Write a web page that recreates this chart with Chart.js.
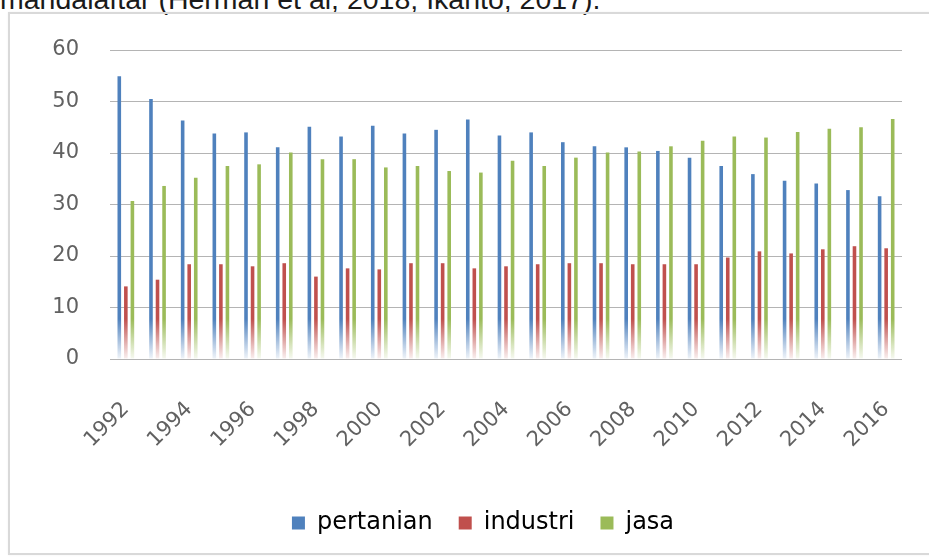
<!DOCTYPE html>
<html>
<head>
<meta charset="utf-8">
<script src="https://cdn.jsdelivr.net/npm/chart.js@4"></script>
<style>
  html, body { margin:0; padding:0; background:#fff; width:929px; height:559px; overflow:hidden; }
  .caption { position:absolute; left:0; top:-15px; font:28.5px "Liberation Sans", Arial, sans-serif; line-height:28px; color:#1a1a1a; white-space:nowrap; }
  .frame { position:absolute; left:8px; top:12px; width:940px; height:539px; border:2px solid #d9d9d9; box-shadow:0 0 2px rgba(0,0,0,.06); }
  #wrap { position:absolute; left:0; top:0; width:929px; height:559px; }
</style>
</head>
<body>
<div class="caption">mandalaftar (Herman et al, 2018; Ikanto, 2017).</div>
<div class="frame"></div>
<div id="wrap"><canvas id="c"></canvas></div>
<script>
/* ── data ── */
const YEARS = ['1992','1993','1994','1995','1996','1997','1998','1999','2000','2001','2002','2003',
               '2004','2005','2006','2007','2008','2009','2010','2011','2012','2013','2014','2015','2016'];
const PERTANIAN = [54.9, 50.5, 46.3, 43.8, 44.0, 41.1, 45.1, 43.2, 45.3, 43.8, 44.5, 46.5,
                   43.4, 44.0, 42.1, 41.3, 41.1, 40.4, 39.1, 37.5, 35.9, 34.6, 34.1, 32.8, 31.6];
const INDUSTRI  = [14.1, 15.4, 18.4, 18.4, 18.0, 18.6, 16.0, 17.6, 17.4, 18.6, 18.6, 17.6,
                   18.0, 18.4, 18.6, 18.6, 18.4, 18.4, 18.4, 19.7, 20.9, 20.5, 21.3, 21.9, 21.5];
const JASA      = [30.7, 33.6, 35.2, 37.5, 37.8, 40.1, 38.8, 38.8, 37.2, 37.5, 36.5, 36.2,
                   38.5, 37.5, 39.1, 40.1, 40.3, 41.3, 42.4, 43.2, 43.0, 44.1, 44.7, 45.0, 46.6];
const SERIES = ['pertanian', 'industri', 'jasa'];
const COLORS = ['#4F81BD', '#C0504D', '#9BBB59'];
const Y_TICKS = [0, 10, 20, 30, 40, 50, 60];

/* bars fade out towards the baseline, like the source picture */
function rgba(hex, a) {
  const n = parseInt(hex.slice(1), 16);
  return `rgba(${n >> 16},${(n >> 8) & 255},${n & 255},${a})`;
}
function fade(hex) {
  return ctx => {
    const area = ctx.chart.chartArea;
    if (!area) return hex;
    const g = ctx.chart.ctx.createLinearGradient(0, area.bottom, 0, area.bottom - 40);
    g.addColorStop(0, rgba(hex, 0.08));
    g.addColorStop(1, hex);
    return g;
  };
}

// legend sits a little right of centre in the source
const nudgeLegend = {
  id: 'nudgeLegend',
  afterLayout(chart) {
    chart.legend.left += 6;
    chart.legend.right += 6;
  }
};

const TXT = '#616161';
const FONT = 'DejaVu Sans';

new Chart(document.getElementById('c'), {
  type: 'bar',
  data: {
    labels: YEARS,
    datasets: [PERTANIAN, INDUSTRI, JASA].map((d, i) => ({
      label: SERIES[i],
      data: d,
      backgroundColor: fade(COLORS[i]),
      barPercentage: 0.55,
      categoryPercentage: 0.62,
    }))
  },
  options: {
    responsive: true, maintainAspectRatio: false, animation: false,
    layout: { padding: { top: 50, right: 27, bottom: 14, left: 52 } },
    plugins: {
      tooltip: { enabled: false },
      legend: {
        position: 'bottom',
        labels: {
          boxWidth: 13, boxHeight: 13, padding: 26,
          color: TXT, font: { family: FONT, size: 24 },
          generateLabels: () => SERIES.map((s, i) => ({
            text: s, fillStyle: COLORS[i], strokeStyle: COLORS[i], lineWidth: 0, datasetIndex: i
          }))
        }
      }
    },
    scales: {
      x: {
        grid: { display: false },
        border: { display: false },
        ticks: {
          autoSkip: false, minRotation: 45, maxRotation: 45, padding: 30,
          color: TXT, font: { family: FONT, size: 21 },
          callback: (v, i) => i % 2 === 0 ? YEARS[i] : ''
        },
        afterFit: s => { s.height = 126; s.paddingLeft = 0; s.paddingRight = 0; }
      },
      y: {
        min: 0, max: 60,
        afterBuildTicks: s => { s.ticks = Y_TICKS.map(v => ({ value: v })); },
        grid: { color: '#b4b4b4', lineWidth: 1, drawTicks: false },
        border: { display: false },
        ticks: { padding: 31, color: TXT, font: { family: FONT, size: 21 } },
        afterFit: s => { s.width = 58; }
      }
    }
  },
  plugins: [nudgeLegend]
});
</script>
</body>
</html>
